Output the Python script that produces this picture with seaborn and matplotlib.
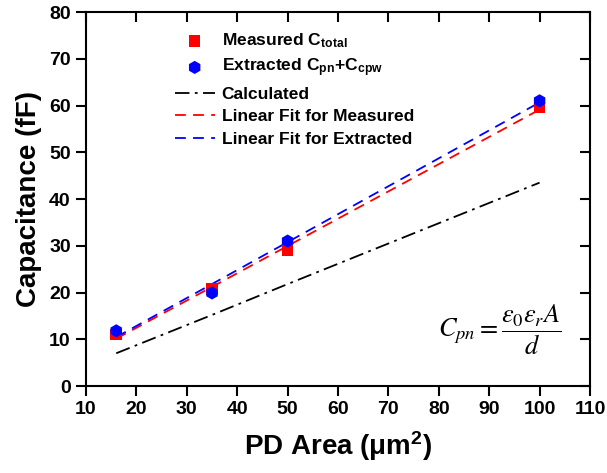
import numpy as np
import pandas as pd
import matplotlib
matplotlib.use("Agg")
import matplotlib.pyplot as plt
import seaborn as sns

# Data
area = [16, 35, 50, 100]
measured = [11.0, 20.8, 29.0, 59.6]
extracted = [11.8, 19.9, 31.0, 61.0]
calculated = [7.0, 15.2, 21.8, 43.5]

sns.set_style("ticks", {"axes.edgecolor": "black", "text.color": "black",
                        "axes.labelcolor": "black", "xtick.color": "black",
                        "ytick.color": "black"})
plt.rcParams['font.family'] = ['Liberation Sans', 'DejaVu Sans']
plt.rcParams['mathtext.fontset'] = 'stix'

fig = plt.figure(figsize=(6.07, 4.73), dpi=100)
ax = fig.add_axes([86/607, 1 - 386/473, (590-86)/607, (386-12)/473])

df = pd.DataFrame({"area": area, "measured": measured, "extracted": extracted, "calculated": calculated})

sns.lineplot(data=df, x="area", y="calculated", ax=ax, color="black", lw=1.3,
             dashes=False, linestyle=(0, (8, 3, 1.5, 3)), label="Calculated", zorder=2)
sns.regplot(data=df, x="area", y="measured", ax=ax, ci=None, scatter=False,
            line_kws=dict(color="red", lw=1.3, linestyle=(0, (6, 4)), zorder=3),
            label="Linear Fit for Measured")
sns.regplot(data=df, x="area", y="extracted", ax=ax, ci=None, scatter=False,
            line_kws=dict(color="blue", lw=1.3, linestyle=(0, (6, 4)), zorder=3),
            label="Linear Fit for Extracted")
sns.scatterplot(data=df, x="area", y="measured", ax=ax, marker="s", color="red",
                s=70, edgecolor="none", label="Measured C$_{\\mathregular{total}}$", zorder=4)
sns.scatterplot(data=df, x="area", y="extracted", ax=ax, marker="h", color="blue",
                s=90, edgecolor="none", label="Extracted C$_{\\mathregular{pn}}$+C$_{\\mathregular{cpw}}$", zorder=5)

ax.set_xlim(10, 110)
ax.set_ylim(0, 80)
ax.set_xticks(range(10, 111, 10))
ax.set_yticks(range(0, 81, 10))
ax.tick_params(axis='both', which='both', labelsize=14, width=1.5, length=7, direction='out', pad=4,
               colors='black')
ax.tick_params(top=True, right=True, labeltop=False, labelright=False)
for lbl in ax.get_xticklabels() + ax.get_yticklabels():
    lbl.set_fontweight('bold')
# inward ticks for top/right
for t in ax.xaxis.get_major_ticks():
    t.tick2line.set_marker(3)
    t.tick2line.set_markersize(7)
for t in ax.yaxis.get_major_ticks():
    t.tick2line.set_marker(0)
    t.tick2line.set_markersize(7)
for sp in ax.spines.values():
    sp.set_linewidth(1.5)
    sp.set_color('black')
    sp.set_visible(True)

ax.set_xlabel("PD Area ($\\mathregular{\\mu m^2}$)", fontsize=20, fontweight='bold', labelpad=8, color='black')
ax.set_ylabel("Capacitance (fF)", fontsize=20, fontweight='bold', labelpad=5, color='black')

handles, labels = ax.get_legend_handles_labels()
order = [labels.index(l) for l in ["Measured C$_{\\mathregular{total}}$",
                                    "Extracted C$_{\\mathregular{pn}}$+C$_{\\mathregular{cpw}}$",
                                    "Calculated", "Linear Fit for Measured", "Linear Fit for Extracted"]]
leg = ax.legend([handles[i] for i in order], [labels[i] for i in order],
                loc='upper left', bbox_to_anchor=(0.145, 0.99), frameon=False,
                prop=dict(size=12.5, weight='bold'), handlelength=2.3, labelspacing=0.42,
                handletextpad=0.4, labelcolor='black')

ax.text(0.82, 0.15, r'$C_{pn} = \dfrac{\varepsilon_0 \varepsilon_r A}{d}$',
        transform=ax.transAxes, fontsize=19, fontweight='normal', ha='center', va='center',
        color='black')

fig.savefig("out.png", dpi=100)
